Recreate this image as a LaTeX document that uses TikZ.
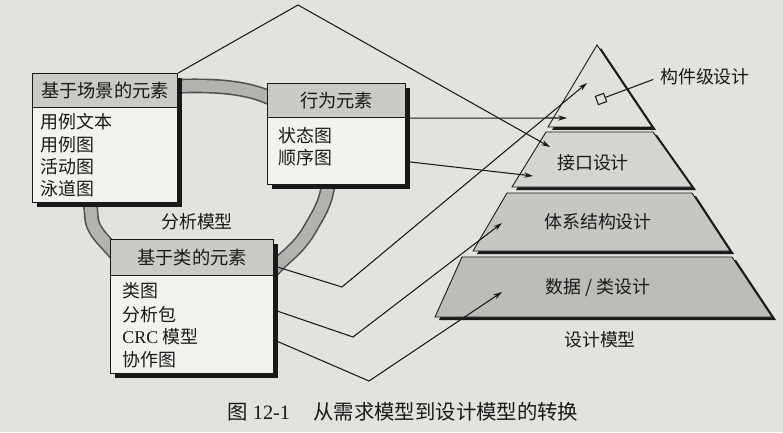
\documentclass[tikz,border=0pt]{standalone}
\usepackage{fontspec}
\newfontfamily\cjk{Noto Sans CJK SC}
\newfontfamily\latin{Liberation Serif}
\usepackage{tikz}
\usetikzlibrary{arrows.meta,positioning}
\definecolor{paper}{RGB}{226,226,223}
\definecolor{boxBody}{RGB}{242,242,239}
\definecolor{boxHead}{RGB}{202,202,199}
\definecolor{ringFill}{RGB}{178,178,175}
\definecolor{ringEdge}{RGB}{80,80,80}
\definecolor{tierTop}{RGB}{224,224,221}
\definecolor{tierIface}{RGB}{212,212,209}
\definecolor{tierArch}{RGB}{198,198,195}
\definecolor{tierData}{RGB}{188,188,185}
\definecolor{ink}{RGB}{25,25,25}

\begin{document}
\begin{tikzpicture}[x=0.02cm, y=-0.02cm,
    txt/.style={font=\cjk\fontsize{10.2pt}{12pt}\selectfont, text=ink, inner sep=0pt},
    item/.style={txt, anchor=west},
    elembody/.style={draw=ink, line width=0.7pt, fill=boxBody, anchor=north west, inner sep=0pt},
    elemhead/.style={elembody, fill=boxHead, font=\cjk\fontsize{10.4pt}{12pt}\selectfont, text=ink},
    link/.style={ink, line width=0.6pt},
    arr/.style={link, -{Stealth[length=5pt,width=3pt]}},
    tier/.style={draw=ink, line width=0.5pt}
  ]
    \useasboundingbox[fill=paper] (0,0) rectangle (783,432);

    % analysis model ring
    \draw[ringEdge, line width=8.4pt] plot[smooth cycle, tension=0.6] coordinates
      {(86,175) (90,205) (105,242) (200,322) (285,258) (314,222) (328,185) (322,140) (270,98) (205,86) (140,95) (95,140)};
    \draw[ringFill, line width=6.6pt] plot[smooth cycle, tension=0.6] coordinates
      {(86,175) (90,205) (105,242) (200,322) (285,258) (314,222) (328,185) (322,140) (270,98) (205,86) (140,95) (95,140)};
    \node[txt] (anaLabel) at (197,222) {分析模型};

    % design pyramid
    \fill[ink] (601,48) -- (656,130) -- (552,130) -- cycle;
    \fill[tierTop, tier] (597,45) -- (652,127) -- (548,127) -- cycle;
    \fill[ink] (550,135) -- (657,135) -- (696,190) -- (516,190) -- cycle;
    \fill[tierIface, tier] (546,132) -- (653,132) -- (692,187) -- (512,187) -- cycle;
    \fill[ink] (511,196) -- (696,196) -- (734,254) -- (477,254) -- cycle;
    \fill[tierArch, tier] (507,193) -- (692,193) -- (730,251) -- (473,251) -- cycle;
    \fill[ink] (466,260) -- (736,260) -- (776,320) -- (439,320) -- cycle;
    \fill[tierData, tier] (462,257) -- (732,257) -- (772,317) -- (435,317) -- cycle;

    \node[draw=ink, line width=0.6pt, fill=tierTop, minimum size=5pt, inner sep=0pt, rotate=20] (compMark) at (601,99) {};
    \node[txt] (compLabel) at (705,77) {构件级设计};
    \draw[link, shorten >=4pt] (compMark) -- (compLabel.west);
    \node[txt] (ifaceLabel) at (593,163) {接口设计};
    \node[txt] (archLabel) at (598,222) {体系结构设计};
    \node[txt] (dataLabel) at (598,288) {数据 / 类设计};
    \node[txt] (designLabel) at (600,340) {设计模型};

    % scenario-based elements
    \fill[ink] (37,78) rectangle (182,207);
    \node[elembody, minimum width=2.9cm, minimum height=2.58cm] (scn) at (32,73) {};
    \node[elemhead, minimum width=2.9cm, minimum height=0.68cm] (scnHead) at (32,73) {基于场景的元素};
    \node[item] (scnText) at (40,122) {用例文本};
    \node[item] (scnCase) at (40,145) {用例图};
    \node[item] (scnAct) at (40,167) {活动图};
    \node[item] (scnLane) at (40,189) {泳道图};

    % behavioral elements
    \fill[ink] (272,88) rectangle (410,189);
    \node[elembody, minimum width=2.76cm, minimum height=2.02cm] (beh) at (267,83) {};
    \node[elemhead, minimum width=2.76cm, minimum height=0.68cm] (behHead) at (267,83) {行为元素};
    \node[item] (behState) at (278,136) {状态图};
    \node[item] (behSeq) at (278,158) {顺序图};

    % class-based elements
    \fill[ink] (115,244) rectangle (278,378);
    \node[elembody, minimum width=3.26cm, minimum height=2.68cm] (cls) at (110,239) {};
    \node[elemhead, minimum width=3.26cm, minimum height=0.72cm] (clsHead) at (110,239) {基于类的元素};
    \node[item] (clsDiag) at (122,291) {类图};
    \node[item] (clsPkg) at (122,315) {分析包};
    \node[item] (clsCrc) at (122,337) {{\latin CRC} 模型};
    \node[item] (clsCollab) at (122,360) {协作图};

    % transformation arrows
    \coordinate (peak) at (298,5);
    \coordinate (ifaceTip) at (550,147);
    \coordinate (compTipA) at (567,118);
    \coordinate (ifaceTipB) at (533,176);
    \coordinate (bendD) at (342,287);
    \coordinate (compTipB) at (587,83);
    \coordinate (bendE) at (353,337);
    \coordinate (archTip) at (502,223);
    \coordinate (bendF) at (369,381);
    \coordinate (dataTip) at (502,292);
    \draw[arr] (scn.north east) -- (peak) -- (ifaceTip);
    \draw[arr] (beh.east |- behHead.south) -- (compTipA);
    \draw[arr] ([yshift=-2pt]beh.east |- behSeq) -- (ifaceTipB);
    \draw[arr] (cls.east |- 0,266) -- (bendD) -- (compTipB);
    \draw[arr] (cls.east |- 0,310) -- (bendE) -- (archTip);
    \draw[arr] (cls.east |- 0,340) -- (bendF) -- (dataTip);

    % caption
    \node[txt, font=\latin\fontsize{11.6pt}{14pt}\selectfont, anchor=west] (capNum) at (227,412) {{\cjk 图} 12-1};
    \node[txt, font=\cjk\fontsize{11.6pt}{14pt}\selectfont, anchor=west] (capText) at (313,412) {从需求模型到设计模型的转换};
  \end{tikzpicture}
\end{document}
